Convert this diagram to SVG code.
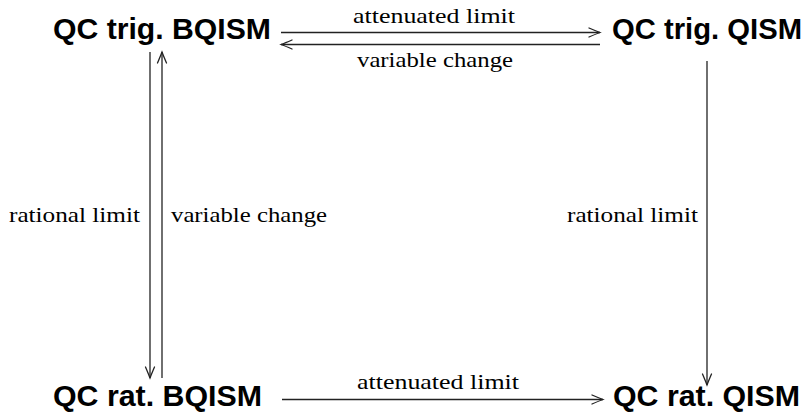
<svg xmlns="http://www.w3.org/2000/svg" width="807" height="417" viewBox="0 0 807 417">
<style>
.node{font-family:"Liberation Sans","DejaVu Sans",sans-serif;font-weight:bold;font-size:29px;fill:#000}
.lbl{font-family:"Liberation Serif","DejaVu Serif",serif;font-size:21px;fill:#000}
.c{stroke:#222;stroke-width:1.3;fill:none}
</style>
<defs>
<marker id="to" markerUnits="userSpaceOnUse" markerWidth="16" markerHeight="12" viewBox="-13 -6 16 12" refX="0" refY="0" orient="auto">
<path d="M-11,-4.5 Q-4,-1.5 0,0 Q-4,1.5 -11,4.5" fill="none" stroke="#222" stroke-width="1.3" stroke-linecap="round"/>
</marker>
</defs>
<rect width="807" height="417" fill="#fff"/>
<g id="connectors">
<line class="c" x1="281" y1="32.5" x2="600" y2="32.5" marker-end="url(#to)"/>
<line class="c" x1="600" y1="44.5" x2="281" y2="44.5" marker-end="url(#to)"/>
<line class="c" x1="150" y1="52" x2="150" y2="378" marker-end="url(#to)"/>
<line class="c" x1="162" y1="378" x2="162" y2="52" marker-end="url(#to)"/>
<line class="c" x1="707" y1="61" x2="707" y2="385" marker-end="url(#to)"/>
<line class="c" x1="282" y1="399.5" x2="603" y2="399.5" marker-end="url(#to)"/>
<text class="lbl" x="353" y="23" textLength="162" lengthAdjust="spacingAndGlyphs">attenuated limit</text>
<text class="lbl" x="357" y="67" textLength="156" lengthAdjust="spacingAndGlyphs">variable change</text>
<text class="lbl" x="9" y="222" textLength="131" lengthAdjust="spacingAndGlyphs">rational limit</text>
<text class="lbl" x="171" y="222" textLength="156" lengthAdjust="spacingAndGlyphs">variable change</text>
<text class="lbl" x="567" y="222" textLength="131" lengthAdjust="spacingAndGlyphs">rational limit</text>
<text class="lbl" x="357" y="389" textLength="162" lengthAdjust="spacingAndGlyphs">attenuated limit</text>
</g>
<g id="trigBQISM"><text class="node" x="53" y="39" textLength="218" lengthAdjust="spacingAndGlyphs">QC trig. BQISM</text></g>
<g id="trigQISM"><text class="node" x="612" y="39" textLength="190" lengthAdjust="spacingAndGlyphs">QC trig. QISM</text></g>
<g id="ratBQISM"><text class="node" x="53" y="406" textLength="209" lengthAdjust="spacingAndGlyphs">QC rat. BQISM</text></g>
<g id="ratQISM"><text class="node" x="613" y="406" textLength="187" lengthAdjust="spacingAndGlyphs">QC rat. QISM</text></g>
</svg>
